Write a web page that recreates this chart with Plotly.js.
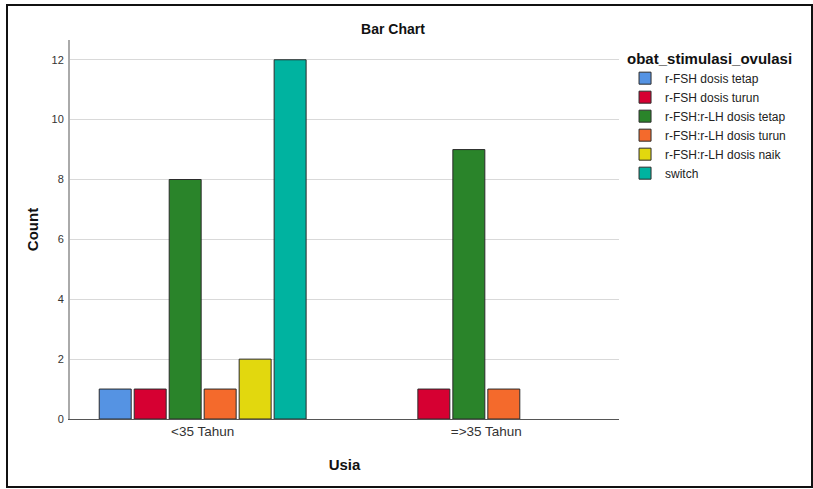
<!DOCTYPE html>
<html>
<head>
<meta charset="utf-8">
<script src="https://cdn.plot.ly/plotly-3.0.1.min.js"></script>
<style>
  html, body { margin: 0; padding: 0; background: #fff; }
  #chart { width: 813px; height: 489px; position: absolute; left: 0; top: 0; }
  #frame { position: absolute; left: 6px; top: 4px; width: 803px; height: 480px; border: 2px solid #111; pointer-events: none; }
</style>
</head>
<body>
<div id="chart"></div>
<div id="frame"></div>
<script>
const categories = ["<35 Tahun", "=>35 Tahun"];
const seriesNames = ["r-FSH dosis tetap", "r-FSH dosis turun", "r-FSH:r-LH dosis tetap", "r-FSH:r-LH dosis turun", "r-FSH:r-LH dosis naik", "switch"];
const rfshTetap = [1, null];
const rfshTurun = [1, 1];
const rfshLhTetap = [8, 9];
const rfshLhTurun = [1, 1];
const rfshLhNaik = [2, null];
const switchVals = [12, null];
const yTicks = [0, 2, 4, 6, 8, 10, 12];

const seriesValues = [rfshTetap, rfshTurun, rfshLhTetap, rfshLhTurun, rfshLhNaik, switchVals];
const colors = ["#5593E3", "#D60032", "#2A842A", "#F46A2C", "#E2D80E", "#00B3A0"];

const FONT = "'Liberation Sans', Arial, sans-serif";

const traces = seriesNames.map((name, i) => ({
  type: "bar",
  name: name,
  x: categories,
  y: seriesValues[i],
  marker: { color: colors[i], line: { color: "#2b2b2b", width: 1 } },
  hoverinfo: "x+y+name"
}));

const layout = {
  width: 813,
  height: 489,
  margin: { l: 70, r: 194, t: 40, b: 70 },
  paper_bgcolor: "#fff",
  plot_bgcolor: "#fff",
  font: { family: FONT, color: "#222", size: 12 },
  barmode: "group",
  bargap: 0.26,
  bargroupgap: 0.086,
  title: {
    text: "<b>Bar Chart</b>",
    font: { family: FONT, size: 14, color: "#111" },
    x: 393 / 813, xref: "container", xanchor: "center",
    y: 1 - 29 / 489, yref: "container", yanchor: "middle"
  },
  xaxis: {
    type: "category",
    range: [-0.4677, 1.4677],
    showgrid: false,
    zeroline: false,
    showline: true,
    linecolor: "#555",
    linewidth: 1,
    ticks: "",
    tickfont: { family: FONT, size: 13.5, color: "#333" },
    title: { text: "<b>Usia</b>", font: { family: FONT, size: 15, color: "#111" }, standoff: 21 },
    fixedrange: true
  },
  yaxis: {
    range: [0, 12.66],
    tickvals: yTicks,
    ticktext: yTicks.map(String),
    showgrid: true,
    gridcolor: "#d9d9d9",
    gridwidth: 1,
    zeroline: false,
    showline: true,
    linecolor: "#aaaaaa",
    linewidth: 2,
    ticks: "",
    ticklabelstandoff: 2,
    tickfont: { family: FONT, size: 11, color: "#333" },
    title: { text: "<b>Count</b>", font: { family: FONT, size: 15, color: "#111" }, standoff: 9 },
    fixedrange: true
  },
  legend: {
    x: 1.011, xanchor: "left",
    y: 0.989, yanchor: "top",
    bgcolor: "rgba(0,0,0,0)",
    font: { family: FONT, size: 12, color: "#222" },
    title: { text: "<b>obat_stimulasi_ovulasi</b>", font: { family: FONT, size: 15, color: "#111" } },
    tracegroupgap: 0,
    itemclick: false,
    itemdoubleclick: false
  },
  showlegend: true
};

Plotly.newPlot("chart", traces, layout, { displayModeBar: false, staticPlot: true });
</script>
</body>
</html>
